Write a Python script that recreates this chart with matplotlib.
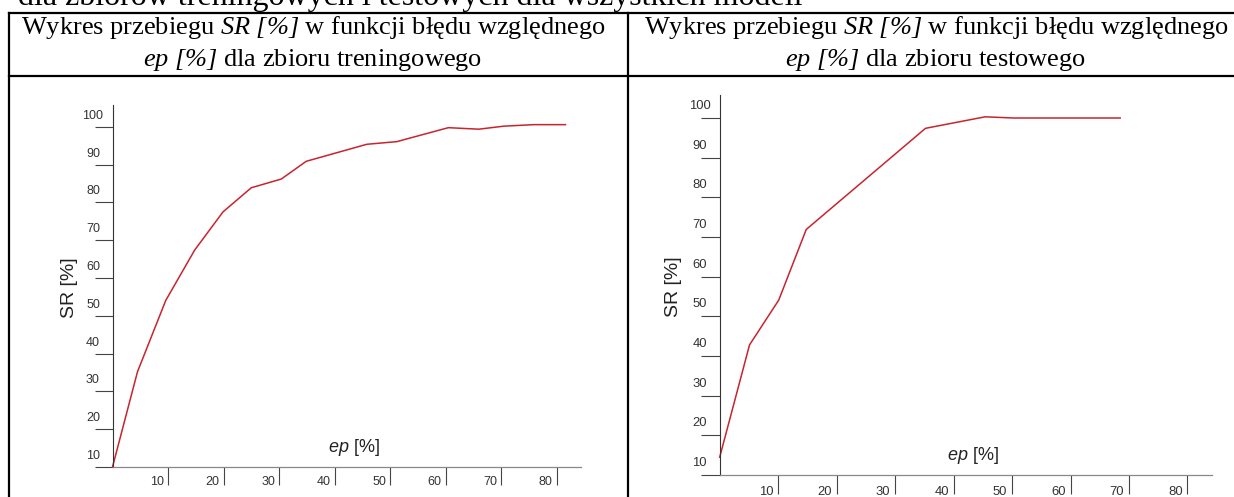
import matplotlib.pyplot as plt
from matplotlib.lines import Line2D

plt.rcParams['font.family'] = 'Liberation Sans'
plt.rcParams['mathtext.fontset'] = 'custom'
plt.rcParams['mathtext.rm'] = 'Liberation Serif:italic'
plt.rcParams['mathtext.it'] = 'Liberation Serif:italic'
plt.rcParams['mathtext.sf'] = 'Liberation Sans:italic'

# dane
ep_train = [0, 4.5, 9.6, 14.8, 19.9, 25.0, 30.4, 34.9, 45.8, 51.2, 60.5, 66.0, 70.5, 75.9, 81.6]
sr_train = [10, 35.2, 54.1, 67.4, 77.5, 83.9, 86.2, 90.9, 95.4, 96.1, 99.8, 99.4, 100.2, 100.6, 100.6]

ep_test = [0, 5.1, 10.1, 14.8, 35.2, 45.4, 50.3, 68.5]
sr_test = [14.5, 42.8, 54.1, 71.9, 97.4, 100.3, 100.0, 100.0]

x_ticks = [10, 20, 30, 40, 50, 60, 70, 80]
y_ticks = [10, 20, 30, 40, 50, 60, 70, 80, 90, 100]

top_text = 'dla zbiorów treningowych i testowych dla wszystkich modeli'
hdr_line1 = r'Wykres przebiegu $SR\ [\%]$ w funkcji błędu względnego'
hdr_train = r'$ep\ [\%]$ dla zbioru treningowego'
hdr_test = r'$ep\ [\%]$ dla zbioru testowego'

W, H = 1234, 497
fig = plt.figure(figsize=(W / 100, H / 100), dpi=100)


def fx(px):
    return px / W


def fy(py):
    return 1 - py / H


# ramka tabeli
for x0, y0, x1, y1 in [(9, 13, 1234, 13), (9, 76, 1234, 76),
                       (9, 13, 9, 497), (628, 13, 628, 497)]:
    fig.add_artist(Line2D([fx(x0), fx(x1)], [fy(y0), fy(y1)],
                          color='black', lw=1.6))

serif = 'Liberation Serif'
hs = 19
fig.text(fx(18), fy(5), top_text, family=serif, fontsize=23, va='baseline', ha='left')
fig.text(fx(313), fy(34), hdr_line1, family=serif, fontsize=hs, va='baseline', ha='center')
fig.text(fx(313), fy(66), hdr_train, family=serif, fontsize=hs, va='baseline', ha='center')
fig.text(fx(936), fy(34), hdr_line1, family=serif, fontsize=hs, va='baseline', ha='center')
fig.text(fx(936), fy(66), hdr_test, family=serif, fontsize=hs, va='baseline', ha='center')


def chart(left, right, bottom, top, xmax, ep, sr, fs, ylab_off, xlab_off,
          tick_len, ylabel_pos, xlabel_pos):
    ax = fig.add_axes([fx(left), fy(bottom), fx(right) - fx(left), fy(top) - fy(bottom)])
    ax.plot(ep, sr, color='#c8242e', lw=1.1, clip_on=False)
    ax.set_xlim(0, xmax)
    ax.set_ylim(10, 105.8)
    ax.set_xticks(x_ticks)
    ax.set_yticks(y_ticks)
    ax.tick_params(axis='both', direction='out', length=tick_len, width=0.8,
                   color='#444', labelleft=False, labelbottom=False)
    for s in ['top', 'right']:
        ax.spines[s].set_visible(False)
    ax.spines['left'].set_color('#333')
    ax.spines['bottom'].set_color('#888')
    ax.spines['left'].set_linewidth(0.8)
    ax.spines['bottom'].set_linewidth(0.9)
    for v in y_ticks:
        ax.annotate(str(v), xy=(0, v), xycoords=ax.get_yaxis_transform(),
                    xytext=ylab_off, textcoords='offset pixels',
                    ha='center', va='center', fontsize=fs, color='#333')
    for v in x_ticks:
        ax.annotate(str(v), xy=(v, 0), xycoords=ax.get_xaxis_transform(),
                    xytext=xlab_off, textcoords='offset pixels',
                    ha='center', va='center', fontsize=fs, color='#333')
    fig.text(fx(ylabel_pos[0]), fy(ylabel_pos[1]), 'SR [%]', rotation=90,
             ha='center', va='center', fontsize=14, color='#222')
    fig.text(fx(xlabel_pos[0]), fy(xlabel_pos[1]), r'$\mathsf{ep}$ [%]',
             ha='center', va='center', fontsize=13, color='#222')
    return ax


chart(112.5, 581, 467, 105, 84.4, ep_train, sr_train, 9, (-19.5, 11), (-11, -14.7),
      13, (70, 288), (354, 447))
chart(719.7, 1212, 475, 95, 84.2, ep_test, sr_test, 9.4, (-20, 12), (-12, -16.7),
      13.9, (674, 287), (973, 455))

fig.savefig('out.png', dpi=100)
